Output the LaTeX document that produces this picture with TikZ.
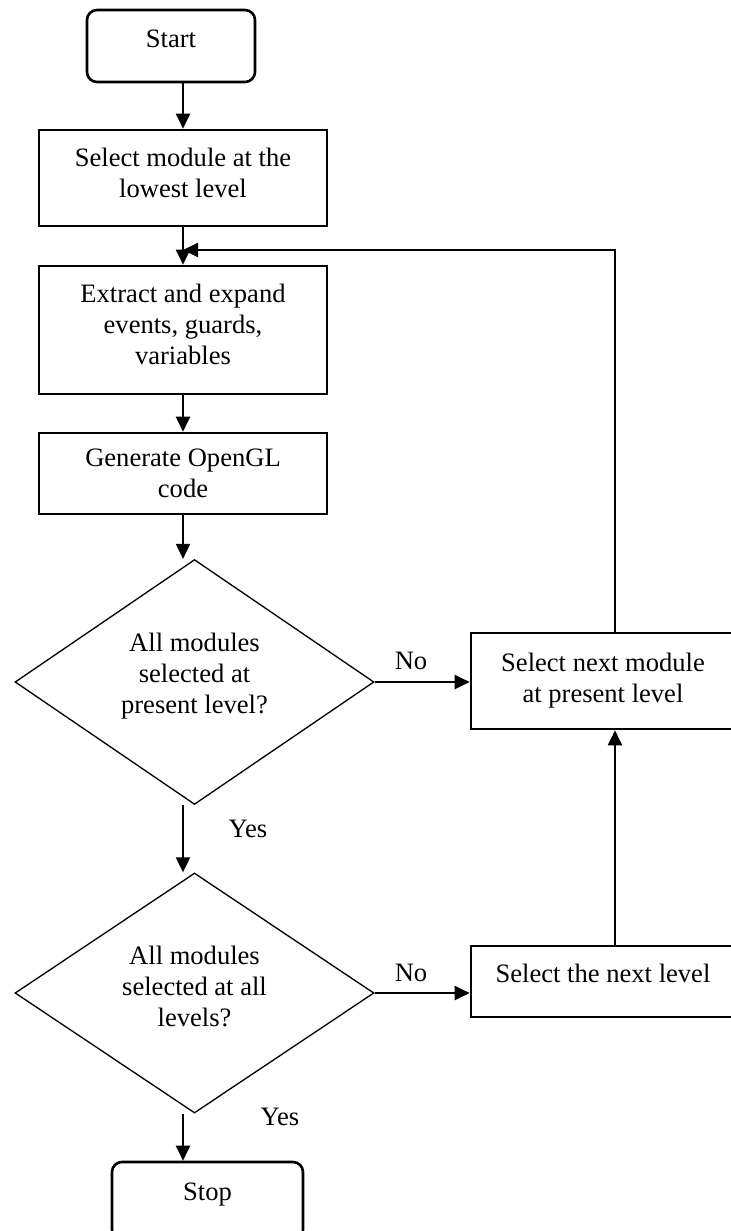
\documentclass[tikz,border=0pt]{standalone}
\usepackage{fontspec}
\setmainfont{Liberation Serif}
\usetikzlibrary{shapes.geometric,arrows.meta}

\begin{document}
\begin{tikzpicture}[x=0.25mm,y=-0.25mm,
    every node/.style={font=\fontsize{18.9}{22}\selectfont},
    box/.style={draw,line width=0.65mm,align=center,inner sep=0pt},
    term/.style={box,rounded corners=2.5mm},
    decision/.style={draw,diamond,line width=0.33mm,align=center,inner sep=0pt,
        minimum width=89.75mm,minimum height=60mm},
    arr/.style={line width=0.5mm,-{Triangle[length=3.75mm,width=3.5mm]}}]
\useasboundingbox (0,0) rectangle (730,1231);

\node[term,minimum width=42mm,minimum height=18mm,text depth=3.5mm] (start) at (171,46) {Start};
\node[box,minimum width=72mm,minimum height=24mm,text depth=2.5mm] (lowest) at (183,178) {Select module at the\\lowest level};
\node[box,minimum width=72mm,minimum height=32mm,text depth=3mm] (extract) at (183,330) {Extract and expand\\events, guards,\\variables};
\node[box,minimum width=72mm,minimum height=20.25mm] (opengl) at (183,473.5) {Generate OpenGL\\code};
\node[decision,text depth=4.45mm] (present) at (194.5,682) {All modules\\selected at\\present level?};
\node[decision,text depth=3.2mm] (levels) at (194.5,993) {All modules\\selected at all\\levels?};
\node[term,minimum width=47.75mm,minimum height=19.5mm,text depth=4.45mm] (stop) at (207.5,1201) {Stop};
\node[box,minimum width=66mm,minimum height=24mm] (nextmod) at (603,681) {Select next module\\at present level};
\node[box,minimum width=66mm,minimum height=17.75mm,text depth=4.25mm] (nextlev) at (603,981.5) {Select the next level};

\node (no1) at (411,661) {No};
\node (no2) at (411,973) {No};
\node (yes1) at (248,829) {Yes};
\node (yes2) at (280,1117) {Yes};

\coordinate (back) at (615,250);

\foreach \a/\b in {start/lowest,lowest/extract,extract/opengl,opengl/present,present/levels,levels/stop}
    \draw[arr] (lowest.south |- \a.south) -- (lowest.south |- \b.north);

\draw[arr] (present.east) -- (present.east -| nextmod.west);
\draw[arr] (levels.east) -- (levels.east -| nextlev.west);
\draw[arr] (nextlev.north -| back) -- (nextmod.south -| back);
\draw[arr] (nextmod.north -| back) -- (back) -- (lowest.south |- back);
\end{tikzpicture}
\end{document}
